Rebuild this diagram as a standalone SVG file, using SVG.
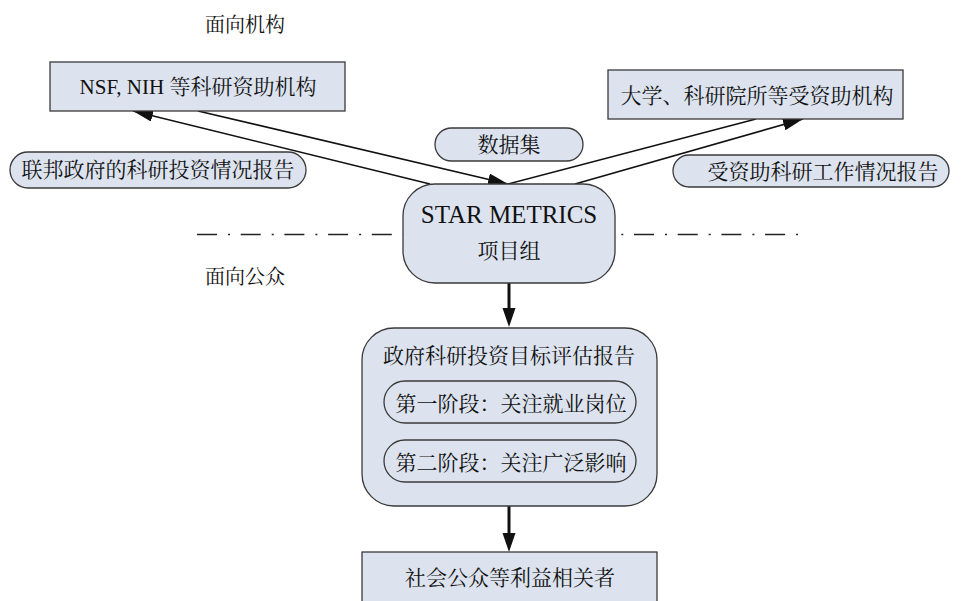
<svg xmlns="http://www.w3.org/2000/svg" width="962" height="601" viewBox="0 0 962 601">
<style>
.box{fill:#dce3ee;stroke:#3a3a3a;stroke-width:1.3}
.t{font-family:"Liberation Serif","Noto Serif CJK SC","Noto Sans CJK SC",serif;font-size:21px;fill:#111;text-anchor:middle}
.lbl{font-family:"Liberation Serif","Noto Serif CJK SC","Noto Sans CJK SC",serif;font-size:20px;fill:#111}
.ln{stroke:#111;stroke-width:1.6;fill:none}
.thick{stroke:#111;stroke-width:3;fill:none}
</style>
<defs>
<marker id="ah" markerUnits="userSpaceOnUse" markerWidth="20" markerHeight="12" refX="20" refY="6" orient="auto"><path d="M0,0 L20,6 L0,12 z" fill="#111"/></marker>
<marker id="ahb" markerUnits="userSpaceOnUse" markerWidth="19" markerHeight="14" refX="0" refY="7" orient="auto"><path d="M0,0.5 L19,7 L0,13.5 z" fill="#111"/></marker>
</defs>
<rect width="962" height="601" fill="#fff"/>
<text class="lbl" x="205" y="32">面向机构</text>
<text class="lbl" x="205" y="284">面向公众</text>
<line x1="197" y1="234.5" x2="798" y2="234.5" stroke="#222" stroke-width="1.5" stroke-dasharray="20 11 2 10.7"/>
<g id="connectors">
<line class="ln" x1="198" y1="111" x2="508" y2="184" marker-end="url(#ah)"/>
<line class="ln" x1="430" y1="184" x2="133" y2="111" marker-end="url(#ah)"/>
<line class="ln" x1="756" y1="119" x2="508" y2="184"/>
<line class="ln" x1="575" y1="184" x2="803" y2="119" marker-end="url(#ah)"/>
<line class="thick" x1="509" y1="283" x2="509" y2="308" marker-end="url(#ahb)"/>
<line class="thick" x1="509" y1="506" x2="509" y2="533" marker-end="url(#ahb)"/>
</g>
<g id="nsf">
<rect class="box" x="50" y="62" width="295" height="49"/>
<text class="t" x="198" y="94">NSF, NIH 等科研资助机构</text>
</g>
<g id="univ">
<rect class="box" x="608" y="70" width="295" height="49"/>
<text class="t" x="757" y="103">大学、科研院所等受资助机构</text>
</g>
<g id="federal-report">
<rect class="box" x="10" y="152" width="296" height="36" rx="18"/>
<text class="t" x="158" y="177">联邦政府的科研投资情况报告</text>
</g>
<g id="dataset">
<rect class="box" x="435" y="128" width="148" height="33" rx="16.5"/>
<text class="t" x="509" y="152">数据集</text>
</g>
<g id="funded-report">
<rect class="box" x="673" y="155" width="276" height="32" rx="16"/>
<text class="t" x="823" y="179">受资助科研工作情况报告</text>
</g>
<g id="star">
<rect class="box" x="403" y="184" width="212" height="99" rx="32"/>
<text class="t" x="509" y="223" style="font-size:25px">STAR METRICS</text>
<text class="t" x="509" y="258">项目组</text>
</g>
<g id="eval-report">
<rect class="box" x="362" y="328" width="295" height="178" rx="32"/>
<text class="t" x="509" y="363">政府科研投资目标评估报告</text>
<rect class="box" x="384" y="381" width="252" height="42" rx="21"/>
<text class="t" x="511" y="411">第一阶段：关注就业岗位</text>
<rect class="box" x="384" y="440" width="252" height="42" rx="21"/>
<text class="t" x="511" y="470">第二阶段：关注广泛影响</text>
</g>
<g id="public">
<rect class="box" x="362" y="552" width="295" height="60"/>
<text class="t" x="510" y="585">社会公众等利益相关者</text>
</g>
</svg>
